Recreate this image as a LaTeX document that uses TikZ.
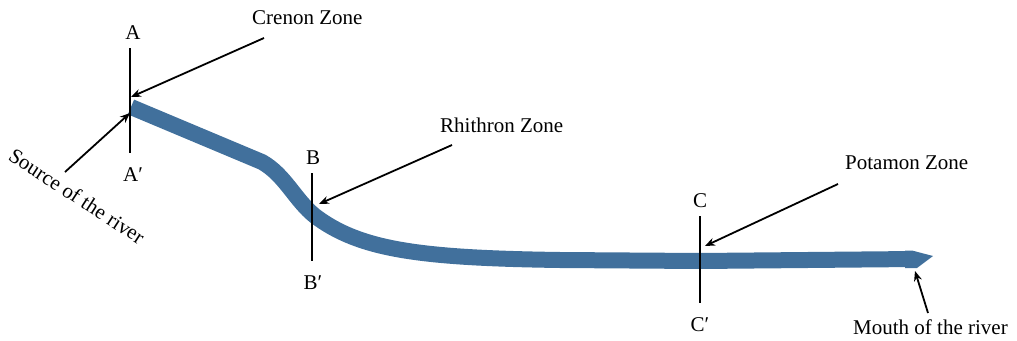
\documentclass[tikz,border=0pt]{standalone}
\usepackage{fontspec}
\setmainfont{Liberation Serif}
\usetikzlibrary{arrows.meta}
\definecolor{river}{RGB}{65,112,156}
\begin{document}
\begin{tikzpicture}[x=1pt,y=-1pt,
  lbl/.style={font=\fontsize{21}{24}\selectfont, inner sep=0pt},
  sect/.style={line width=1.8pt},
  ptr/.style={line width=1.8pt, -{Stealth[length=10pt,width=8pt]}}]
\useasboundingbox (0,0) rectangle (1017,340);
% river
\draw[river, line width=16pt, line join=round]
  (131,107) -- (262,162) .. controls (285,175) and (295,200) .. (315,216)
  .. controls (360,250) and (420,258) .. (560,260) -- (700,261) -- (915,259);
\fill[river] (912,250.5) -- (933,256) -- (917,268) -- (905,268) -- (905,250.5) -- cycle;
% section lines
\node[lbl] (A) at (133,33) {A};
\node[lbl] (A2) at (133,175) {A′};
\coordinate (Atop) at (130,48);
\coordinate (Abot) at (130,153);
\draw[sect] (Atop) -- (Abot);
\node[lbl] (B) at (313,158) {B};
\node[lbl] (B2) at (313,283) {B′};
\coordinate (Btop) at (312,173);
\coordinate (Bbot) at (312,261);
\draw[sect] (Btop) -- (Bbot);
\node[lbl] (C) at (700,201) {C};
\node[lbl] (C2) at (700,325) {C′};
\coordinate (Ctop) at (700,216);
\coordinate (Cbot) at (700,303);
\draw[sect] (Ctop) -- (Cbot);
% labels and pointers
\node[lbl, anchor=west] (crenon) at (252,18) {Crenon Zone};
\coordinate (crenonT) at (264,38);
\coordinate (crenonH) at (131,97);
\draw[ptr] (crenonT) -- (crenonH);
\node[lbl, rotate=-33] (source) at (77,196) {Source of the river};
\coordinate (sourceT) at (65,172);
\coordinate (sourceH) at (130,113);
\draw[ptr] (sourceT) -- (sourceH);
\node[lbl, anchor=west] (rhith) at (440,125) {Rhithron Zone};
\coordinate (rhithT) at (452,145);
\coordinate (rhithH) at (319,204);
\draw[ptr] (rhithT) -- (rhithH);
\node[lbl, anchor=west] (potam) at (845,163) {Potamon Zone};
\coordinate (potamT) at (838,184);
\coordinate (potamH) at (705,246);
\draw[ptr] (potamT) -- (potamH);
\node[lbl, anchor=west] (mouth) at (853,327) {Mouth of the river};
\coordinate (mouthT) at (928,313);
\coordinate (mouthH) at (915,271);
\draw[ptr] (mouthT) -- (mouthH);
\end{tikzpicture}
\end{document}
